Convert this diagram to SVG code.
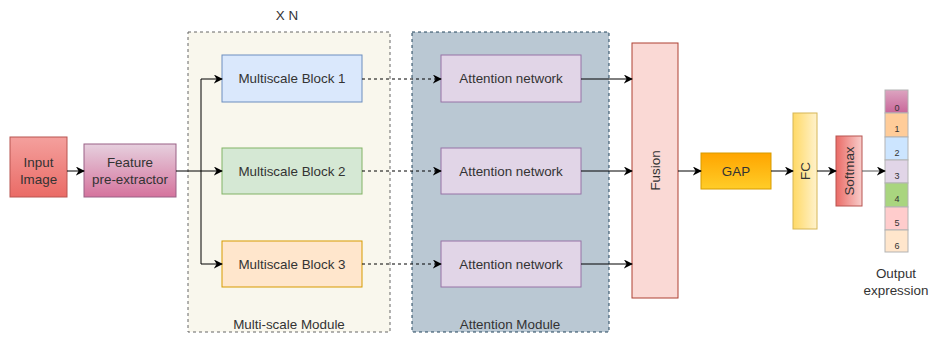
<svg xmlns="http://www.w3.org/2000/svg" width="933" height="337" viewBox="0 0 933 337">
<style>
text{font-family:"Liberation Sans",Arial,sans-serif;font-size:13.4px;fill:#333;text-anchor:middle}
.num{font-size:9px}
.ln{fill:none;stroke:#000;stroke-width:1}
.dash{stroke-dasharray:3 3}
</style>
<defs>
<marker id="ah" viewBox="0 0 10 10" refX="9" refY="5" markerWidth="9" markerHeight="9" markerUnits="userSpaceOnUse" orient="auto">
<path d="M0,0 L10,5 L0,10 L3,5 Z" fill="#000"/>
</marker>
<linearGradient id="gRed" x1="0" y1="0" x2="0" y2="1"><stop offset="0" stop-color="#f4a09d"/><stop offset="1" stop-color="#ea6b66"/></linearGradient>
<linearGradient id="gPink" x1="0" y1="0" x2="0" y2="1"><stop offset="0" stop-color="#e6d0de"/><stop offset="1" stop-color="#d5739d"/></linearGradient>
<linearGradient id="gGap" x1="0" y1="0" x2="0" y2="1"><stop offset="0" stop-color="#ffa500"/><stop offset="1" stop-color="#ffcd28"/></linearGradient>
<linearGradient id="gFc" x1="0" y1="0" x2="1" y2="0"><stop offset="0" stop-color="#ffd966"/><stop offset="1" stop-color="#fff2cc"/></linearGradient>
<linearGradient id="gSm" x1="0" y1="0" x2="1" y2="0"><stop offset="0" stop-color="#ea6b66"/><stop offset="1" stop-color="#f8cecc"/></linearGradient>
<linearGradient id="gC0" x1="0" y1="0" x2="0" y2="1"><stop offset="0" stop-color="#dca4c0"/><stop offset="1" stop-color="#c9679a"/></linearGradient>
</defs>

<g id="multiscale-module">
<rect x="188" y="32" width="202" height="300" fill="#f9f7ed" stroke="#666" stroke-dasharray="3 3"/>
<text x="289" y="329">Multi-scale Module</text>
<text x="287" y="20">X N</text>
</g>
<g id="attention-module">
<rect x="412" y="32" width="197" height="300" fill="#bac8d3" stroke="#23445d" stroke-dasharray="3 3"/>
<text x="510" y="329">Attention Module</text>
</g>

<g id="input-image">
<rect x="10" y="137" width="57" height="60" fill="url(#gRed)" stroke="#b85450"/>
<text x="38.5" y="167">Input</text>
<text x="38.5" y="184">Image</text>
</g>
<g id="feature-pre-extractor">
<rect x="84" y="144" width="92" height="53" fill="url(#gPink)" stroke="#996185"/>
<text x="130" y="167">Feature</text>
<text x="130" y="184">pre-extractor</text>
</g>

<g id="block1">
<rect x="222" y="55" width="140" height="47" fill="#dae8fc" stroke="#6c8ebf"/>
<text x="292" y="83">Multiscale Block 1</text>
</g>
<g id="block2">
<rect x="222" y="148" width="140" height="46" fill="#d5e8d4" stroke="#82b366"/>
<text x="292" y="175.5">Multiscale Block 2</text>
</g>
<g id="block3">
<rect x="222" y="241" width="140" height="46" fill="#ffe6cc" stroke="#d79b00"/>
<text x="292" y="268.5">Multiscale Block 3</text>
</g>

<g id="attention1">
<rect x="441" y="55" width="140" height="47" fill="#e1d5e7" stroke="#9673a6"/>
<text x="511" y="83">Attention network</text>
</g>
<g id="attention2">
<rect x="441" y="148" width="140" height="46" fill="#e1d5e7" stroke="#9673a6"/>
<text x="511" y="175.5">Attention network</text>
</g>
<g id="attention3">
<rect x="441" y="241" width="140" height="46" fill="#e1d5e7" stroke="#9673a6"/>
<text x="511" y="268.5">Attention network</text>
</g>

<g id="fusion">
<rect x="632" y="43" width="46" height="255" fill="#fad9d5" stroke="#ae4132"/>
<text transform="translate(659.7,170.5) rotate(-90)">Fusion</text>
</g>
<g id="gap">
<rect x="701" y="153" width="70" height="36" fill="url(#gGap)" stroke="#d79b00"/>
<text x="736" y="175.7">GAP</text>
</g>
<g id="fc">
<rect x="793" y="113" width="24" height="116" fill="url(#gFc)" stroke="#d6b656"/>
<text transform="translate(809.7,171) rotate(-90)">FC</text>
</g>
<g id="softmax">
<rect x="836" y="136" width="26" height="70" fill="url(#gSm)" stroke="#b85450"/>
<text transform="translate(853.7,171) rotate(-90)">Softmax</text>
</g>

<g id="output">
<rect x="885" y="90" width="23" height="23" fill="url(#gC0)" stroke="#b3b3b3"/>
<rect x="885" y="113" width="23" height="24" fill="#ffcc99" stroke="#b3b3b3"/>
<rect x="885" y="137" width="23" height="23" fill="#cce5ff" stroke="#b3b3b3"/>
<rect x="885" y="160" width="23" height="23" fill="#e1d5e7" stroke="#b3b3b3"/>
<rect x="885" y="183" width="23" height="24" fill="#a9d57f" stroke="#b3b3b3"/>
<rect x="885" y="207" width="23" height="23" fill="#ffcccc" stroke="#b3b3b3"/>
<rect x="885" y="230" width="23" height="22" fill="#ffe6cc" stroke="#b3b3b3"/>
<text class="num" x="897" y="111">0</text>
<text class="num" x="897" y="132">1</text>
<text class="num" x="897" y="156">2</text>
<text class="num" x="897" y="179">3</text>
<text class="num" x="897" y="202">4</text>
<text class="num" x="897" y="226">5</text>
<text class="num" x="897" y="249">6</text>
<text x="896" y="278">Output</text>
<text x="896" y="295">expression</text>
</g>

<g id="connectors">
<path class="ln" d="M67,171 H84" marker-end="url(#ah)"/>
<path class="ln" d="M176,171 H222" marker-end="url(#ah)"/>
<path class="ln" d="M201,264 V79 H222" marker-end="url(#ah)"/>
<path class="ln" d="M201,264 H222" marker-end="url(#ah)"/>
<path class="ln dash" d="M362,79 H441" marker-end="url(#ah)"/>
<path class="ln dash" d="M362,171 H441" marker-end="url(#ah)"/>
<path class="ln dash" d="M362,264 H441" marker-end="url(#ah)"/>
<path class="ln" d="M581,79 H632" marker-end="url(#ah)"/>
<path class="ln" d="M581,171 H632" marker-end="url(#ah)"/>
<path class="ln" d="M581,264 H632" marker-end="url(#ah)"/>
<path class="ln" d="M678,171 H701" marker-end="url(#ah)"/>
<path class="ln" d="M771,171 H793" marker-end="url(#ah)"/>
<path class="ln" d="M817,171 H836" marker-end="url(#ah)"/>
<path class="ln" d="M862,171 H885" style="stroke:#555" marker-end="url(#ah)"/>
</g>
</svg>
